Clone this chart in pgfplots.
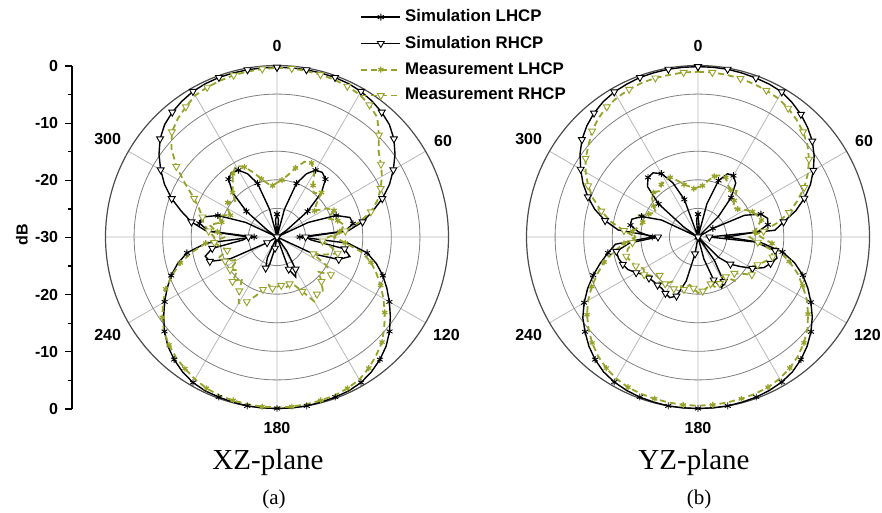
\documentclass[border=0pt]{standalone}
\usepackage{pgfplots}
\pgfplotsset{compat=1.18}
\usepackage{pgfplotstable}
\usepgfplotslibrary{polar}
\usepackage{fontspec}
\setmainfont{Liberation Sans}
\newfontfamily\lsans{Liberation Sans}
\newfontfamily\lserif{Liberation Serif}
\definecolor{olv}{RGB}{150,162,40}

% ---------- XZ-plane ----------
\pgfplotstableread{
a db
0 -26
5 -27
10 -30
15 -25
20 -20
25 -17.8
30 -16.5
35 -16.2
40 -16.8
45 -19
50 -23
55 -28
60 -30
65 -24
70 -19
75 -16.8
80 -16.5
85 -18
90 -26
95 -17.5
100 -14
105 -12
110 -10.3
115 -8.8
120 -7.3
125 -5.8
130 -4.3
135 -3
140 -2
145 -1.2
150 -0.6
155 -0.3
160 -0.2
165 -0.1
170 0
175 0
180 0
185 0
190 0
195 -0.1
200 -0.2
205 -0.3
210 -0.6
215 -1.2
220 -2
225 -3
230 -4.3
235 -5.8
240 -7.3
245 -8.8
250 -10.3
255 -12
260 -14
265 -17.5
270 -26
275 -18
280 -16.2
285 -16.5
290 -19
295 -24
300 -30
305 -28
310 -23
315 -19
320 -16.8
325 -16.2
330 -16.5
335 -17.8
340 -20
345 -25
350 -30
355 -27
360 -26
}\LSL

\pgfplotstableread{
a db
0 -0.3
5 -0.3
10 -0.3
15 -0.3
20 -0.3
25 -0.4
30 -0.6
35 -1
40 -1.5
45 -2.2
50 -3.3
55 -4.8
60 -6.5
65 -8.3
70 -10.4
75 -12.7
80 -14.8
85 -17.5
90 -25
95 -24
100 -18
105 -16.8
110 -18.5
115 -23
120 -30
125 -30
130 -30
135 -30
140 -30
145 -27
150 -23.5
155 -22.3
160 -24
165 -30
170 -30
175 -30
180 -30
185 -30
190 -28
195 -25
200 -24.2
205 -26
210 -30
215 -30
220 -30
225 -30
230 -30
235 -30
240 -28
245 -21
250 -17.5
255 -17
260 -18.5
265 -24
270 -25
275 -17.5
280 -14.8
285 -12.7
290 -10.4
295 -8.3
300 -6.5
305 -4.8
310 -3.3
315 -2.2
320 -1.5
325 -1
330 -0.6
335 -0.4
340 -0.3
345 -0.3
350 -0.3
355 -0.3
360 -0.3
}\LSR

\pgfplotstableread{
a db
0 -20.5
5 -20
10 -19
15 -17.5
20 -16
25 -15.7
30 -17
35 -19
40 -20
45 -19
50 -21
55 -22
60 -20
65 -19
70 -20.5
75 -19
80 -18
85 -19
90 -20
95 -18
100 -15
105 -13
110 -11.5
115 -10
120 -8.5
125 -7
130 -5.5
135 -4
140 -3
145 -2
150 -1.2
155 -0.8
160 -0.5
165 -0.4
170 -0.3
175 -0.2
180 -0.2
185 -0.2
190 -0.3
195 -0.4
200 -0.5
205 -0.8
210 -1.3
215 -1.9
220 -2.5
225 -3.3
230 -4.2
235 -5.5
240 -7
245 -8.5
250 -10.5
255 -12.5
260 -15
265 -17.5
270 -21
275 -19.5
280 -18
285 -20
290 -19
295 -21
300 -20
305 -19.5
310 -20.5
315 -19
320 -18
325 -16.5
330 -15.6
335 -16.5
340 -18
345 -19.5
350 -20.5
355 -21
360 -20.5
}\LML

\pgfplotstableread{
a db
0 -0.4
5 -0.4
10 -0.5
15 -0.6
20 -0.7
25 -0.9
30 -1.2
35 -1.8
40 -2.7
45 -4.8
50 -6.8
55 -7.8
60 -8.8
65 -10
70 -11.3
75 -13
80 -15.5
85 -18
90 -21
95 -22
100 -20.5
105 -19
110 -21
115 -23
120 -20
125 -18.5
130 -20.5
135 -19
140 -17.5
145 -17.8
150 -17
155 -19.5
160 -21
165 -21.5
170 -21
175 -21.5
180 -21.3
185 -21
190 -21.5
195 -20.5
200 -19
205 -17.5
210 -16.6
215 -18.5
220 -20.5
225 -19
230 -21
235 -20
240 -22
245 -20
250 -19
255 -21
260 -20
265 -19
270 -19
275 -18
280 -17
285 -16.5
290 -15.5
295 -14
300 -11.5
305 -8.5
310 -5.9
315 -4
320 -3
325 -2.2
330 -1.4
335 -1.1
340 -0.9
345 -0.7
350 -0.6
355 -0.5
360 -0.4
}\LMR

% ---------- YZ-plane ----------
\pgfplotstableread{
a db
0 -26
5 -28
10 -30
15 -24
20 -19.5
25 -17.8
30 -17.6
35 -18.5
40 -21
45 -25
50 -30
55 -30
60 -27
65 -21
70 -18.3
75 -17.4
80 -17.6
85 -19.5
90 -25
95 -19
100 -15
105 -12.5
110 -10.5
115 -8.8
120 -7.2
125 -5.6
130 -4.2
135 -3
140 -2
145 -1.2
150 -0.7
155 -0.4
160 -0.2
165 -0.1
170 0
175 0
180 0
185 0
190 0
195 -0.1
200 -0.2
205 -0.4
210 -0.7
215 -1.2
220 -2
225 -3
230 -4.2
235 -5.4
240 -7
245 -8.7
250 -10.5
255 -12.3
260 -14
265 -15.5
270 -22
275 -19.5
280 -18
285 -18
290 -19.5
295 -23
300 -30
305 -27
310 -21
315 -17.5
320 -16.4
325 -16.3
330 -17.2
335 -19.5
340 -23
345 -30
350 -30
355 -27
360 -26
}\RSL

\pgfplotstableread{
a db
0 -0.2
5 -0.2
10 -0.2
15 -0.3
20 -0.4
25 -0.5
30 -0.7
35 -1.3
40 -2
45 -2.9
50 -3.9
55 -5.2
60 -6.7
65 -8.3
70 -10.2
75 -12.3
80 -14.8
85 -16.5
90 -28
95 -20
100 -16.3
105 -15.7
110 -16.5
115 -17.3
120 -19
125 -21
130 -22.6
135 -25
140 -30
145 -25
150 -21
155 -20.2
160 -22
165 -26
170 -30
175 -30
180 -30
185 -30
190 -27
195 -22
200 -19
205 -18.3
210 -18.6
215 -19
220 -19
225 -19
230 -18.8
235 -18.5
240 -17.5
245 -16.5
250 -16
255 -15.6
260 -15.5
265 -18
270 -23
275 -16
280 -13.5
285 -11.3
290 -9.5
295 -7.8
300 -6.3
305 -4.8
310 -3.5
315 -2.5
320 -1.7
325 -1.1
330 -0.7
335 -0.5
340 -0.3
345 -0.25
350 -0.2
355 -0.2
360 -0.2
}\RSR

\pgfplotstableread{
a db
0 -21.3
5 -21
10 -20
15 -19
20 -18.5
25 -18.5
30 -19.5
35 -20
40 -19.5
45 -21
50 -22
55 -21.5
60 -20.5
65 -19.5
70 -19
75 -18.5
80 -19.5
85 -20
90 -19
95 -17
100 -15.5
105 -13.5
110 -11.5
115 -9.8
120 -8
125 -6.5
130 -5
135 -3.8
140 -2.8
145 -2
150 -1.4
155 -1
160 -0.8
165 -0.7
170 -0.6
175 -0.5
180 -0.5
185 -0.5
190 -0.6
195 -0.7
200 -0.8
205 -1
210 -1.4
215 -2
220 -2.8
225 -3.8
230 -5
235 -6.3
240 -7.8
245 -9.5
250 -11.3
255 -13
260 -15
265 -17
270 -19
275 -18.5
280 -19.5
285 -20
290 -19
295 -20.5
300 -21.5
305 -20.5
310 -19.5
315 -19
320 -19.5
325 -18.8
330 -18.5
335 -18.5
340 -19.5
345 -20.5
350 -21
355 -21.5
360 -21.3
}\RML

\pgfplotstableread{
a db
0 -1.1
5 -1.1
10 -1.2
15 -1.3
20 -1.5
25 -1.7
30 -2
35 -2.5
40 -3.2
45 -4
50 -5
55 -6.3
60 -7.8
65 -9.5
70 -11.5
75 -13.5
80 -16
85 -18.5
90 -21
95 -19.5
100 -17
105 -16.5
110 -17.5
115 -18.5
120 -19.5
125 -18.5
130 -20
135 -21
140 -20
145 -21.5
150 -22
155 -21
160 -20.5
165 -21.5
170 -21
175 -20.5
180 -20.2
185 -21
190 -21.5
195 -20.5
200 -21
205 -20
210 -21
215 -20
220 -19.5
225 -20.5
230 -19.5
235 -18.5
240 -19
245 -18
250 -17.5
255 -17
260 -17.5
265 -18.5
270 -19
275 -17
280 -14.5
285 -12.5
290 -10.5
295 -8.8
300 -7.3
305 -6
310 -5
315 -3.8
320 -2.9
325 -2.2
330 -1.8
335 -1.5
340 -1.3
345 -1.2
350 -1.2
355 -1.1
360 -1.1
}\RMR

\newcommand{\tickfont}{\lsans\bfseries\fontsize{8}{9.6}\selectfont}
\newcommand{\legfont}{\lsans\bfseries\fontsize{8.4}{10}\selectfont}

\pgfplotsset{
  simL/.style={black, line width=0.7pt, mark=asterisk, mark size=1.7pt, mark repeat=2,
    mark options={solid, line width=0.45pt}},
  simR/.style={black, line width=0.7pt, mark=triangle*, mark size=2pt, mark repeat=2,
    mark options={solid, fill=white, rotate=180, line width=0.45pt}},
  measL/.style={olv, line width=0.9pt, dash pattern=on 3pt off 2pt, mark=asterisk, mark size=1.5pt,
    mark repeat=2, mark phase=2, mark options={solid, line width=0.6pt}},
  measR/.style={olv, line width=0.9pt, dash pattern=on 3pt off 2pt, mark=triangle*, mark size=2pt,
    mark repeat=2, mark phase=2, mark options={solid, fill=white, rotate=180, line width=0.45pt}},
  mypolar/.style={
    scale only axis, width=171.5pt, height=171.5pt, anchor=center,
    xmin=0, xmax=360, ymin=0, ymax=30,
    xtick={0,30,...,330},
    xticklabels={,60,,\raisebox{3.5pt}{0},,300,,240,,180,,120},
    ytick={5,10,15,20,25}, yticklabels={},
    xmajorgrids, ymajorgrids,
    major x grid style={black!28, line width=0.4pt},
    major y grid style={black!50, line width=0.4pt},
    axis line style={black!70, line width=0.6pt},
    y axis line style={draw=none},
    major tick length=0pt,
    xticklabel style={font=\tickfont},
    clip=false,
  },
}

\begin{document}
\begin{tikzpicture}
\useasboundingbox (0,0) rectangle (441pt,256.5pt);

% dB axis
\begin{axis}[
  at={(36pt,52pt)}, anchor=south west,
  scale only axis, width=20pt, height=171.5pt,
  xmin=0, xmax=1, ymin=0, ymax=60,
  axis y line*=left, axis x line=none,
  axis line style={-, black, line width=0.6pt},
  ytick={0,10,...,60}, yticklabels={0,-10,-20,-30,-20,-10,0},
  minor ytick={5,15,...,55},
  tick align=outside, major tick length=3.4pt, minor tick length=2.2pt,
  tick style={black, line width=0.6pt},
  yticklabel style={font=\tickfont},
]
\end{axis}
\node[rotate=90, font=\tickfont] at (11pt,139pt) {dB};

% XZ plane
\begin{polaraxis}[mypolar, at={(138.5pt,138pt)},
  xticklabels={,60,,\raisebox{3.5pt}{0},,300,,240,,\raisebox{0pt}[9.2pt][0pt]{180},,120},
  legend style={at={(0.742,1.176)}, anchor=north west, draw=none, fill=none,
    font=\legfont, inner sep=0pt, row sep=1.6pt, cells={anchor=west}},
  legend image code/.code={\draw[mark repeat=2,mark phase=2,#1] plot coordinates {(0pt,0pt) (9.75pt,0pt) (19.5pt,0pt)};},
]
\addplot[simL] table[x expr={mod(450-\thisrow{a},360)}, y expr={\thisrow{db}+30}] {\LSL};
\addlegendentry{Simulation LHCP}
\addplot[simR] table[x expr={mod(450-\thisrow{a},360)}, y expr={\thisrow{db}+30}] {\LSR};
\addlegendentry{Simulation RHCP}
\addplot[measL] table[x expr={mod(450-\thisrow{a},360)}, y expr={\thisrow{db}+30}] {\LML};
\addlegendentry{Measurement LHCP}
\addplot[measR] table[x expr={mod(450-\thisrow{a},360)}, y expr={\thisrow{db}+30}] {\LMR};
\addlegendentry{Measurement RHCP}
\end{polaraxis}

% YZ plane
\begin{polaraxis}[mypolar, at={(349pt,138pt)},
  xticklabels={,60,,\raisebox{3.5pt}{0},,300,,240,,\raisebox{0pt}[9.2pt][0pt]{180},,120},
]
\addplot[simL] table[x expr={mod(450-\thisrow{a},360)}, y expr={\thisrow{db}+30}] {\RSL};
\addplot[simR] table[x expr={mod(450-\thisrow{a},360)}, y expr={\thisrow{db}+30}] {\RSR};
\addplot[measL] table[x expr={mod(450-\thisrow{a},360)}, y expr={\thisrow{db}+30}] {\RML};
\addplot[measR] table[x expr={mod(450-\thisrow{a},360)}, y expr={\thisrow{db}+30}] {\RMR};
\end{polaraxis}

\node[font=\lserif\fontsize{14.5}{17}\selectfont, anchor=base] at (134pt,21.5pt) {XZ-plane};
\node[font=\lserif\fontsize{10.5}{12}\selectfont, anchor=base] at (137pt,4pt) {(a)};
\node[font=\lserif\fontsize{14.5}{17}\selectfont, anchor=base] at (347pt,21.5pt) {YZ-plane};
\node[font=\lserif\fontsize{10.5}{12}\selectfont, anchor=base] at (349.5pt,4pt) {(b)};
\end{tikzpicture}
\end{document}
